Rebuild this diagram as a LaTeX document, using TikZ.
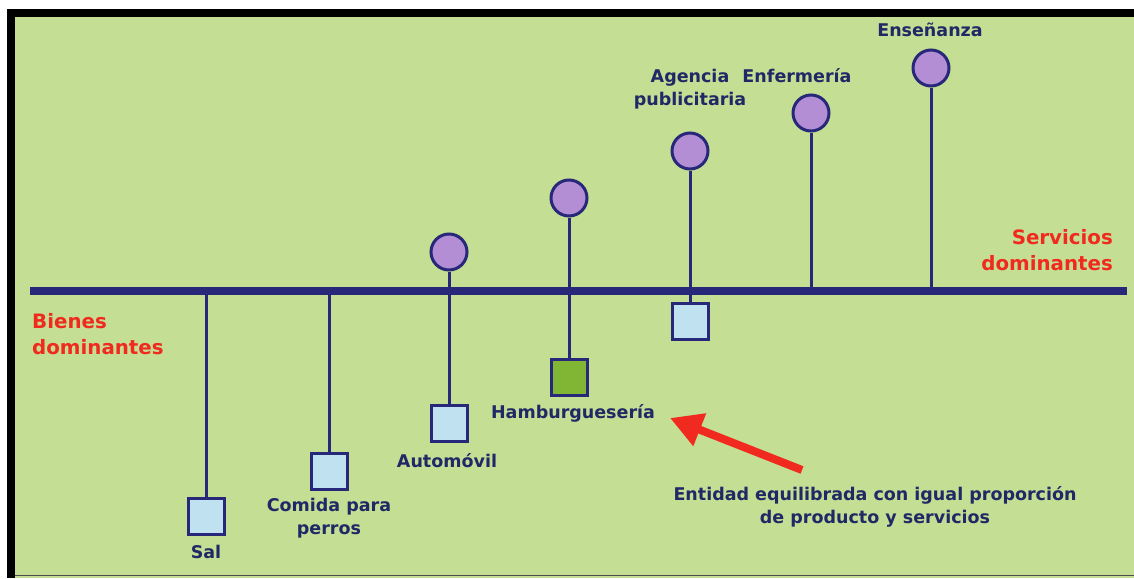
\documentclass[tikz,border=0pt]{standalone}
\usepackage{fontspec}
\setmainfont{DejaVu Sans}
\usetikzlibrary{arrows.meta}
\definecolor{bgc}{RGB}{196,222,148}
\definecolor{navy}{RGB}{40,40,122}
\definecolor{lav}{RGB}{180,142,212}
\definecolor{lblue}{RGB}{192,226,240}
\definecolor{gsq}{RGB}{128,182,52}
\definecolor{rdc}{RGB}{240,42,30}
\definecolor{txt}{RGB}{32,40,102}
\begin{document}
\begin{tikzpicture}[x=1pt,y=-1pt,
  circ/.style={circle,draw=navy,fill=lav,line width=3pt,minimum size=36pt,inner sep=0pt},
  sq/.style={rectangle,draw=navy,fill=lblue,line width=3pt,minimum size=36pt,inner sep=0pt},
  stem/.style={draw=navy,line width=3pt},
  lbl/.style={text=txt,font=\bfseries\fontsize{17.5}{23}\selectfont,align=center,inner sep=0pt},
  redlbl/.style={text=rdc,font=\bfseries\fontsize{19.8}{26.5}\selectfont,inner sep=0pt}
]
\useasboundingbox (0,0) rectangle (1134,578);
\fill[white] (0,0) rectangle (1134,578);
\fill[bgc] (15,17) rectangle (1134,578);
\fill[black] (7,9) rectangle (1134,17);
\fill[black] (7,9) rectangle (15,578);
\draw[black!70,line width=1.5pt] (15,575.5) -- (1134,575.5);

% axis
\coordinate (axL) at (30,291);
\coordinate (axR) at (1127,291);
\draw[navy,line width=8pt] (axL) -- (axR);

% axis points
\coordinate (pSal) at (206,291);
\coordinate (pCom) at (329,291);
\coordinate (pAut) at (449,291);
\coordinate (pHam) at (569,291);
\coordinate (pAge) at (690,291);
\coordinate (pEnf) at (811,291);
\coordinate (pEns) at (931,291);

% squares
\node[sq] (sSal) at (206,516) {};
\node[sq] (sCom) at (329,471) {};
\node[sq] (sAut) at (449,423) {};
\node[sq,fill=gsq] (sHam) at (569,377) {};
\node[sq] (sAge) at (690,321) {};

% circles
\node[circ] (cAut) at (449,252) {};
\node[circ] (cHam) at (569,198) {};
\node[circ] (cAge) at (690,151) {};
\node[circ] (cEnf) at (811,113) {};
\node[circ] (cEns) at (931,68) {};

% stems
\draw[stem] (pSal) -- (sSal.north);
\draw[stem] (pCom) -- (sCom.north);
\draw[stem] (sAut.north) -- (pAut) -- (cAut.south);
\draw[stem] (sHam.north) -- (pHam) -- (cHam.south);
\draw[stem] (sAge.north) -- (pAge) -- (cAge.south);
\draw[stem] (pEnf) -- (cEnf.south);
\draw[stem] (pEns) -- (cEns.south);

% labels
\node[lbl] (tEns) at (930,30) {Enseñanza};
\node[lbl] (tEnf) at (797,76) {Enfermería};
\node[lbl] (tAge) at (690,89) {Agencia\\publicitaria};
\node[lbl] (tSal) at (206,552) {Sal};
\node[lbl] (tCom) at (329,518) {Comida para\\perros};
\node[lbl] (tAut) at (447,461) {Automóvil};
\node[lbl] (tHam) at (573,413) {Hamburguesería};
\node[lbl] (tEnt) at (875,507) {Entidad equilibrada con igual proporción\\de producto y servicios};
\node[redlbl,align=right,anchor=east] (tSer) at (1113,250) {Servicios\\dominantes};
\node[redlbl,align=left,anchor=west] (tBie) at (32,334) {Bienes\\dominantes};

% red arrow
\coordinate (arrT) at (802,470);
\coordinate (arrH) at (670,418);
\draw[rdc,line width=8pt,-{Triangle[length=32pt,width=33pt]}] (arrT) -- (arrH);
\end{tikzpicture}
\end{document}
